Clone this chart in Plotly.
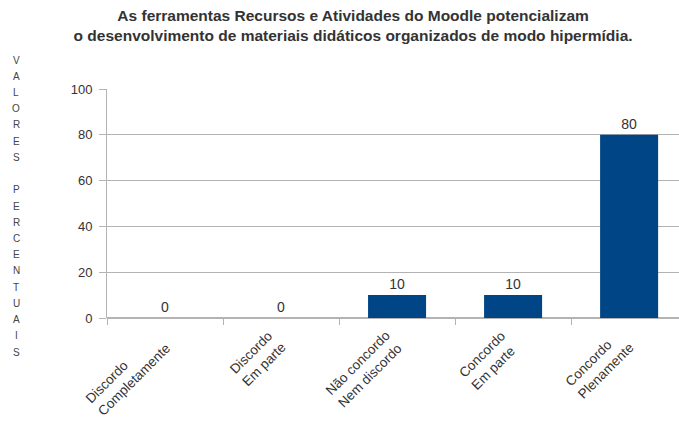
import plotly.graph_objects as go

categories = ["Discordo<br>Completamente", "Discordo<br>Em parte", "Não concordo<br>Nem discordo",
              "Concordo<br>Em parte", "Concordo<br>Plenamente"]
values = [0, 0, 10, 10, 80]
y_ticks = [0, 20, 40, 60, 80, 100]
y_title_letters = list("VALORES") + [""] + list("PERCENTUAIS")

L, R, T, B = 107, 0, 89, 107
W, H = 679, 425
plot_h = H - T - B

fig = go.Figure()
fig.add_trace(go.Bar(
    x=categories, y=values, marker_color="#004586", marker_line_width=0, width=0.5,
    text=[str(v) for v in values], textposition="outside",
    textfont=dict(size=14, color="#333333"), cliponaxis=False, hoverinfo="skip",
))

fig.update_layout(
    width=W, height=H,
    paper_bgcolor="white", plot_bgcolor="white",
    font=dict(family="Liberation Sans, Arial, sans-serif", color="#333333"),
    margin=dict(l=L, r=R, t=T, b=B, autoexpand=False),
    title=dict(
        text="<b>As ferramentas Recursos e Atividades do Moodle potencializam<br>o desenvolvimento de materiais didáticos organizados de modo hipermídia.</b>",
        x=0.52, xanchor="center", y=0.95, yanchor="top",
        font=dict(size=15.5, color="#333333"),
    ),
    showlegend=False,
)
fig.update_xaxes(
    type="category", tickson="boundaries", ticks="outside", ticklen=6,
    tickcolor="#b3b3b3", showgrid=False, showticklabels=False,
    showline=False, range=[-0.5, 4.43], automargin=False,
)
fig.update_yaxes(
    range=[0, 100], tickvals=y_ticks, ticks="outside", ticklen=7,
    tickcolor="#b3b3b3", showgrid=True, gridcolor="#b3b3b3",
    showline=True, linecolor="#b3b3b3", zeroline=True, zerolinecolor="#b3b3b3",
    tickfont=dict(size=13, color="#333333"), automargin=False,
    ticklabelstandoff=4,
)

# rotated, left-aligned category labels
for c in categories:
    fig.add_annotation(
        x=c, xref="x", y=-7 / plot_h, yref="paper",
        text=c, textangle=-45, align="left", showarrow=False,
        xanchor="right", yanchor="top", xshift=11,
        font=dict(size=13.5, color="#333333"),
    )

# vertical stacked axis title
n = len(y_title_letters)
top_px, bot_px = 60, 352
for i, ch in enumerate(y_title_letters):
    if not ch:
        continue
    ypx = top_px + (bot_px - top_px) * i / (n - 1)
    fig.add_annotation(
        text=ch, xref="paper", yref="paper",
        x=-(L - 16) / (W - L - R), y=(H - B - ypx) / plot_h,
        xanchor="center", yanchor="middle", showarrow=False,
        font=dict(size=10, color="#444444"),
    )

fig.write_html("out.html", config={"displayModeBar": False},
               post_script="document.body.style.margin='0';")
